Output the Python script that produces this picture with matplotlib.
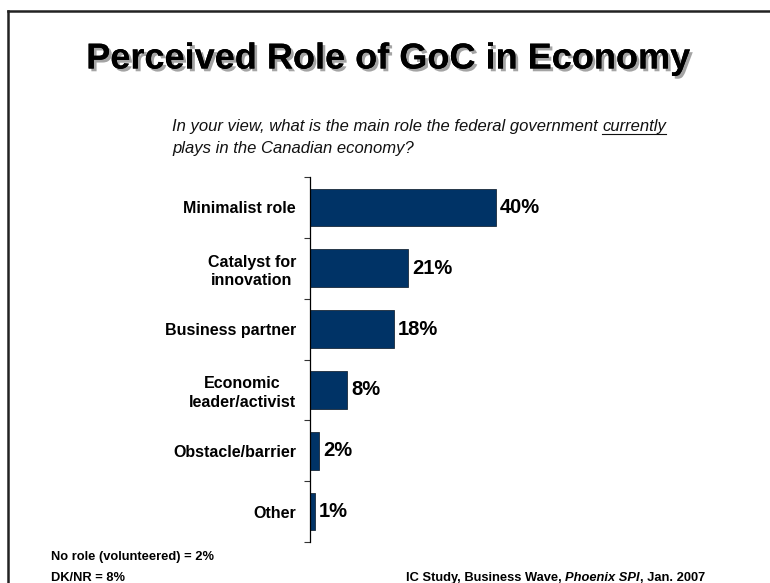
import matplotlib
matplotlib.use('Agg')
import matplotlib.pyplot as plt
import matplotlib.patheffects as pe
from matplotlib.lines import Line2D
from matplotlib import font_manager

plt.rcParams['font.family'] = ['Liberation Sans', 'DejaVu Sans']

# survey answers, top to bottom
roles = ['Minimalist role', 'Catalyst for\ninnovation', 'Business partner',
         'Economic\nleader/activist', 'Obstacle/barrier', 'Other']
shares = [40, 21, 18, 8, 2, 1]

W, H = 770, 583
fig = plt.figure(figsize=(W / 100, H / 100), dpi=100)

# helper: pixel coords (from top-left) -> figure fraction
def fx(px):
    return px / W

def fy(py):
    return 1 - py / H

# slide frame (top and left edges show)
fig.add_artist(Line2D([fx(8), fx(8)], [fy(11), fy(583)], color='#222222', lw=1.8))
fig.add_artist(Line2D([fx(8), fx(770)], [fy(11), fy(11)], color='#222222', lw=1.8))

# title with drop shadow
fig.text(fx(388), fy(59), 'Perceived Role of GoC in Economy', ha='center', va='center',
         fontsize=26, fontweight='bold', color='black',
         path_effects=[pe.withSimplePatchShadow(offset=(2, -2), shadow_rgbFace='#9a9a9a', alpha=0.9),
                       pe.Normal()])

# question text, "currently" underlined
q_kw = dict(fontsize=12, style='italic', color='#111111', va='baseline')
t1 = fig.text(fx(172), fy(131), 'In your view, what is the main role the federal government ', **q_kw)
fig.text(fx(172), fy(153), 'plays in the Canadian economy?', **q_kw)
fig.canvas.draw()
r = fig.canvas.get_renderer()
bb = t1.get_window_extent(r)
t2 = fig.text(bb.x1 / W, fy(131), 'currently', **q_kw)
bb2 = t2.get_window_extent(r)
fig.add_artist(Line2D([bb2.x0 / W, bb2.x1 / W], [fy(134), fy(134)], color='#111111', lw=0.8))

# bar chart
ax = fig.add_axes([fx(310), fy(542), 232.5 / W, 365 / H])
pos = list(range(len(roles)))[::-1]
bars = ax.barh(pos, shares, height=0.62, color='#003366', edgecolor='#1a2a3a', linewidth=0.6)
for b, v in zip(bars, shares):
    ax.text(b.get_width() + 0.9, b.get_y() + b.get_height() / 2, f'{v}%',
            ha='left', va='center', fontsize=14.5, fontweight='bold')

ax.set_xlim(0, 50)
ax.set_ylim(-0.5, len(roles) - 0.5)
ax.set_xticks([])
ax.set_yticks(pos)
ax.set_yticklabels(roles, fontsize=11.5, fontweight='bold', multialignment='center',
                   linespacing=1.3)
ax.tick_params(axis='y', which='major', length=0, pad=10)
ax.set_yticks([p - 0.5 for p in range(len(roles) + 1)], minor=True)
ax.tick_params(axis='y', which='minor', length=4, width=0.8, color='#333333', direction='out')
for s in ['top', 'right', 'bottom']:
    ax.spines[s].set_visible(False)
ax.spines['left'].set_linewidth(0.9)

# footnotes in a condensed face if there is one
names = {f.name for f in font_manager.fontManager.ttflist}
if 'Liberation Sans Narrow' in names:
    fn = dict(fontsize=11, fontweight='bold', va='baseline', family='Liberation Sans Narrow')
else:
    fn = dict(fontsize=9.3, fontweight='bold', va='baseline')
fig.text(fx(51), fy(560), 'No role (volunteered) = 2%', **fn)
fig.text(fx(51), fy(581), 'DK/NR = 8%', **fn)
s1 = fig.text(fx(406), fy(581), 'IC Study, Business Wave, ', **fn)
fig.canvas.draw()
x = s1.get_window_extent(r).x1
s2 = fig.text(x / W, fy(581), 'Phoenix SPI', style='italic', **fn)
fig.canvas.draw()
x = s2.get_window_extent(r).x1
fig.text(x / W, fy(581), ', Jan. 2007', **fn)

fig.savefig('out.png', dpi=100)
